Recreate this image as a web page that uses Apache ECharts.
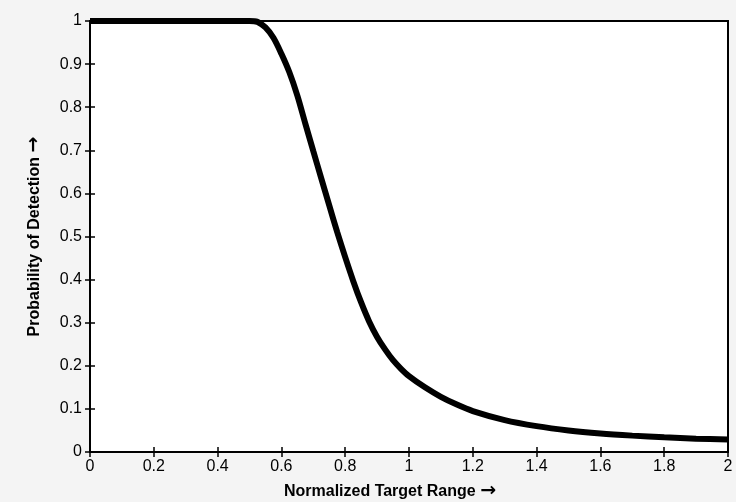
<!DOCTYPE html>
<html>
<head>
<meta charset="utf-8">
<script src="https://cdn.jsdelivr.net/npm/echarts@6/dist/echarts.min.js"></script>
<style>
html,body{margin:0;padding:0;background:#f4f4f4;}
#main{width:736px;height:502px;}
</style>
</head>
<body>
<div id="main"></div>
<script>
// curve
var rangeX = [0, 0.1, 0.2, 0.3, 0.4, 0.5, 0.525, 0.55, 0.575, 0.6, 0.625, 0.65, 0.675, 0.7, 0.725, 0.75, 0.775, 0.8, 0.825, 0.85, 0.875, 0.9, 0.925, 0.95, 0.975, 1.0, 1.05, 1.1, 1.15, 1.2, 1.3, 1.4, 1.5, 1.6, 1.7, 1.8, 1.9, 2.0];
var probY = [1, 1, 1, 1, 1, 1, 0.998, 0.985, 0.961, 0.924, 0.881, 0.827, 0.762, 0.698, 0.635, 0.572, 0.51, 0.452, 0.397, 0.347, 0.303, 0.267, 0.238, 0.213, 0.193, 0.176, 0.150, 0.128, 0.110, 0.095, 0.074, 0.060, 0.050, 0.043, 0.038, 0.034, 0.031, 0.029];

var chart = echarts.init(document.getElementById('main'));
var pts = [];
for (var i = 0; i < rangeX.length; i++) {
    pts.push([rangeX[i], probY[i]]);
}
var font = 'Liberation Sans, Arial, sans-serif';
var line = {show: true, lineStyle: {color: '#000', width: 2}};
var tick = {show: true, inside: true, length: 5, lineStyle: {color: '#000', width: 1.5}};
var arrowRich = {arr: {fontSize: 19, fontWeight: 'bold', fontFamily: 'DejaVu Sans', color: '#000'}};

var option = {
    backgroundColor: '#f4f4f4',
    animation: false,
    grid: {left: 90, right: 8, top: 21, bottom: 50, outerBoundsMode: 'none', containLabel: false,
        show: true, backgroundColor: '#fff', borderColor: '#000', borderWidth: 2},
    xAxis: [{
        type: 'value', min: 0, max: 2, interval: 0.2,
        axisLine: line, axisTick: tick, splitLine: {show: false},
        axisLabel: {color: '#000', fontSize: 16, fontFamily: font, margin: 7},
        name: 'Normalized Target Range {arr|\u2192}', nameLocation: 'middle', nameGap: 30,
        nameTextStyle: {color: '#000', fontSize: 16, fontWeight: 'bold', fontFamily: font,
            padding: [0, 38, 0, 0], rich: arrowRich}
    }, {
        type: 'value', min: 0, max: 2, interval: 0.2, position: 'top',
        axisLine: line, axisTick: tick, splitLine: {show: false}, axisLabel: {show: false}
    }],
    yAxis: [{
        type: 'value', min: 0, max: 1, interval: 0.1,
        axisLine: line, axisTick: tick, splitLine: {show: false},
        axisLabel: {color: '#000', fontSize: 16, fontFamily: font, margin: 8},
        name: 'Probability of Detection {arr|\u2192}', nameLocation: 'middle', nameGap: 46,
        nameTextStyle: {color: '#000', fontSize: 16, fontWeight: 'bold', fontFamily: font, rich: arrowRich}
    }, {
        type: 'value', min: 0, max: 1, interval: 0.1, position: 'right',
        axisLine: line, axisTick: tick, splitLine: {show: false}, axisLabel: {show: false}
    }],
    series: [{
        type: 'line',
        data: pts,
        smooth: 0.3,
        showSymbol: false,
        lineStyle: {color: '#000', width: 6}
    }]
};
chart.setOption(option);
</script>
</body>
</html>
